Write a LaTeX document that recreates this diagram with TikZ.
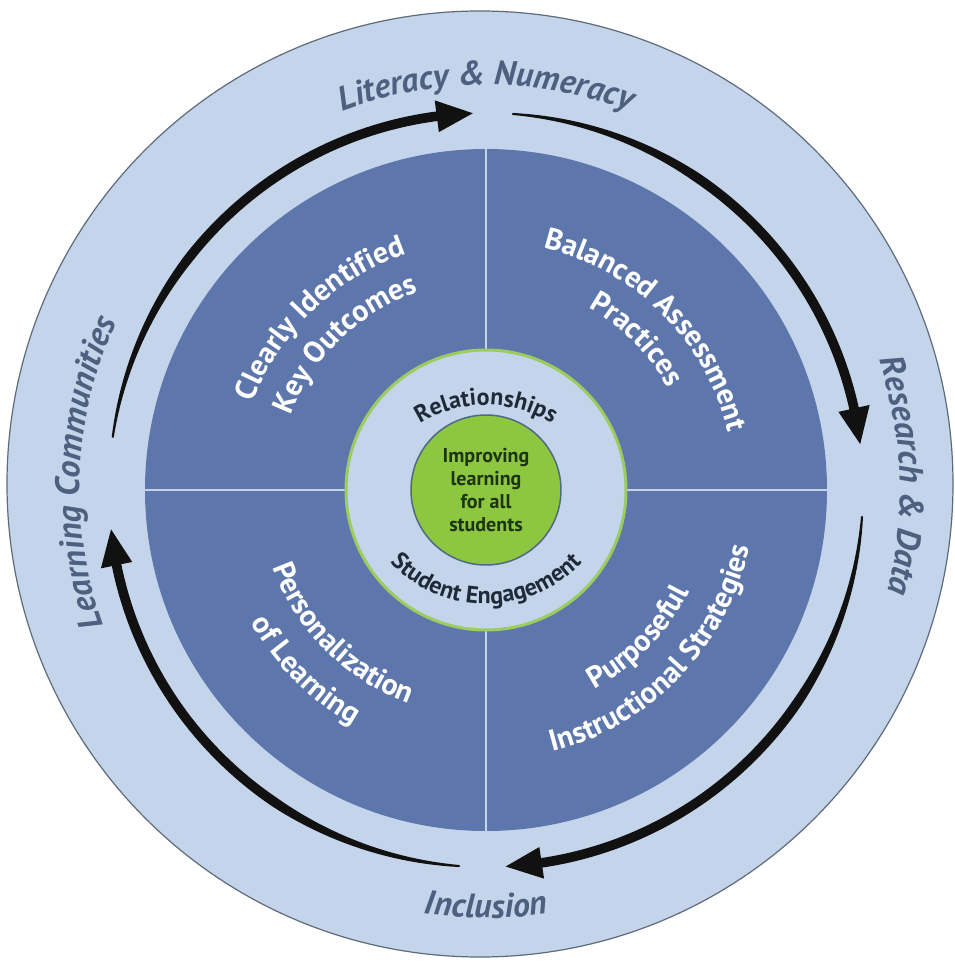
\documentclass[tikz,border=0pt]{standalone}
\usepackage{fontspec}
\setmainfont{PT Sans}
\usetikzlibrary{decorations.text}

\definecolor{ringblue}{HTML}{C4D4EA}
\definecolor{ringedge}{HTML}{5E6B7A}
\definecolor{quadblue}{HTML}{5D77AD}
\definecolor{hubgreen}{HTML}{8DC63F}
\definecolor{hubedge}{HTML}{9CCB5E}
\definecolor{coreedge}{HTML}{4F6A86}
\definecolor{labelslate}{HTML}{4E6080}
\definecolor{hubtext}{HTML}{1F2A38}
\definecolor{coretext}{HTML}{1C3412}
\definecolor{ink}{HTML}{111111}

\newcommand\ArrowR{377}
\newcommand\ringfont{\fontsize{34}{38}\selectfont\bfseries\itshape}
\newcommand\quadfont{\fontsize{30}{34}\selectfont\bfseries}
\newcommand\hubfont{\fontsize{24}{27}\selectfont\bfseries}

\tikzset{
  ring/.style={circle, fill=ringblue, draw=ringedge, line width=1.2pt, inner sep=0pt, minimum size=946pt},
  quadrants/.style={circle, fill=quadblue, inner sep=0pt, minimum size=682pt},
  divider/.style={draw=ringblue, line width=2.5pt},
  hub/.style={circle, fill=ringblue, draw=hubedge, line width=3pt, inner sep=0pt, minimum size=280pt},
  core/.style={circle, fill=hubgreen, draw=coreedge, line width=1.5pt, inner sep=0pt, minimum size=150pt, align=center, text=coretext, font=\fontsize{20}{23}\selectfont\bfseries},
  arrow ink/.style={fill=ink},
  ring label/.style={decorate, decoration={text along path, text align=center, text color=labelslate, text={|\ringfont|#1}}},
  quad label/.style={decorate, decoration={text along path, text align=center, text color=white, text={|\quadfont|#1}}},
  hub label/.style={decorate, decoration={text along path, text align=center, text color=hubtext, text={|\hubfont|#1}}}
}
\tikzset{
  pics/cyclearrow/.style args={#1/#2}{
    code = {
      % shaft, thin at the tail
      \fill[arrow ink] plot[domain=#1:#2+5, samples=60] (\x:{\ArrowR+1+3.8*min(1,abs(\x-(#1))/30)})
        -- plot[domain=#2+5:#1, samples=60] (\x:{\ArrowR-1-3.8*min(1,abs(\x-(#1))/30)}) -- cycle;
      % head
      \fill[arrow ink] ({#2+5.5}:{\ArrowR+16}) -- ({#2}:{\ArrowR}) -- ({#2+5.5}:{\ArrowR-16}) -- cycle;
    }
  }
}

\begin{document}
\begin{tikzpicture}[x=1pt, y=1pt]
  \fill[white] (-486,-472) rectangle (468,490);
  \useasboundingbox (-486,-472) rectangle (468,490);

  \node[ring] (ring) at (-6,6) {};
  \node[quadrants] (quads) at (0,0) {};
  \draw[divider] (quads.north) -- (quads.south);
  \draw[divider] (quads.west) -- (quads.east);
  \node[hub] (hub) at (0,0) {};
  \node[core] (core) at (0,0) {Improving\\learning\\for all\\students};

  \pic {cyclearrow=172/92};
  \pic {cyclearrow=86/7};
  \pic {cyclearrow=-4/-87};
  \pic {cyclearrow=-94/-174};

  % outer ring
  \path[ring label={Literacy {\&} Numeracy}] (150:405) arc[start angle=150, end angle=30, radius=405pt];
  \path[ring label={Research {\&} Data}] (60:414) arc[start angle=60, end angle=-56, radius=414pt];
  \path[ring label={Learning Communities}] (240:406) arc[start angle=240, end angle=115, radius=406pt];
  \path[ring label={Inclusion}] (230:428) arc[start angle=230, end angle=310, radius=428pt];

  % quadrants
  \path[quad label={Clearly Identified}] (180:249) arc[start angle=180, end angle=88, radius=249pt];
  \path[quad label={Key Outcomes}] (180:209) arc[start angle=180, end angle=88, radius=209pt];
  \path[quad label={Balanced Assessment}] (92:249) arc[start angle=92, end angle=-2, radius=249pt];
  \path[quad label={Practices}] (92:209) arc[start angle=92, end angle=-2, radius=209pt];
  \path[quad label={Personalization}] (178:227) arc[start angle=178, end angle=272, radius=227pt];
  \path[quad label={of Learning}] (178:270) arc[start angle=178, end angle=272, radius=270pt];
  \path[quad label={Purposeful}] (-92:227) arc[start angle=-92, end angle=4, radius=227pt];
  \path[quad label={Instructional Strategies}] (-92:270) arc[start angle=-92, end angle=4, radius=270pt];

  % hub
  \path[hub label={Relationships}, shift={(0,-40)}] (140:125) arc[start angle=140, end angle=40, radius=125pt];
  \path[hub label={Student Engagement}, shift={(0,18)}] (200:132) arc[start angle=200, end angle=340, radius=132pt];
\end{tikzpicture}
\end{document}
